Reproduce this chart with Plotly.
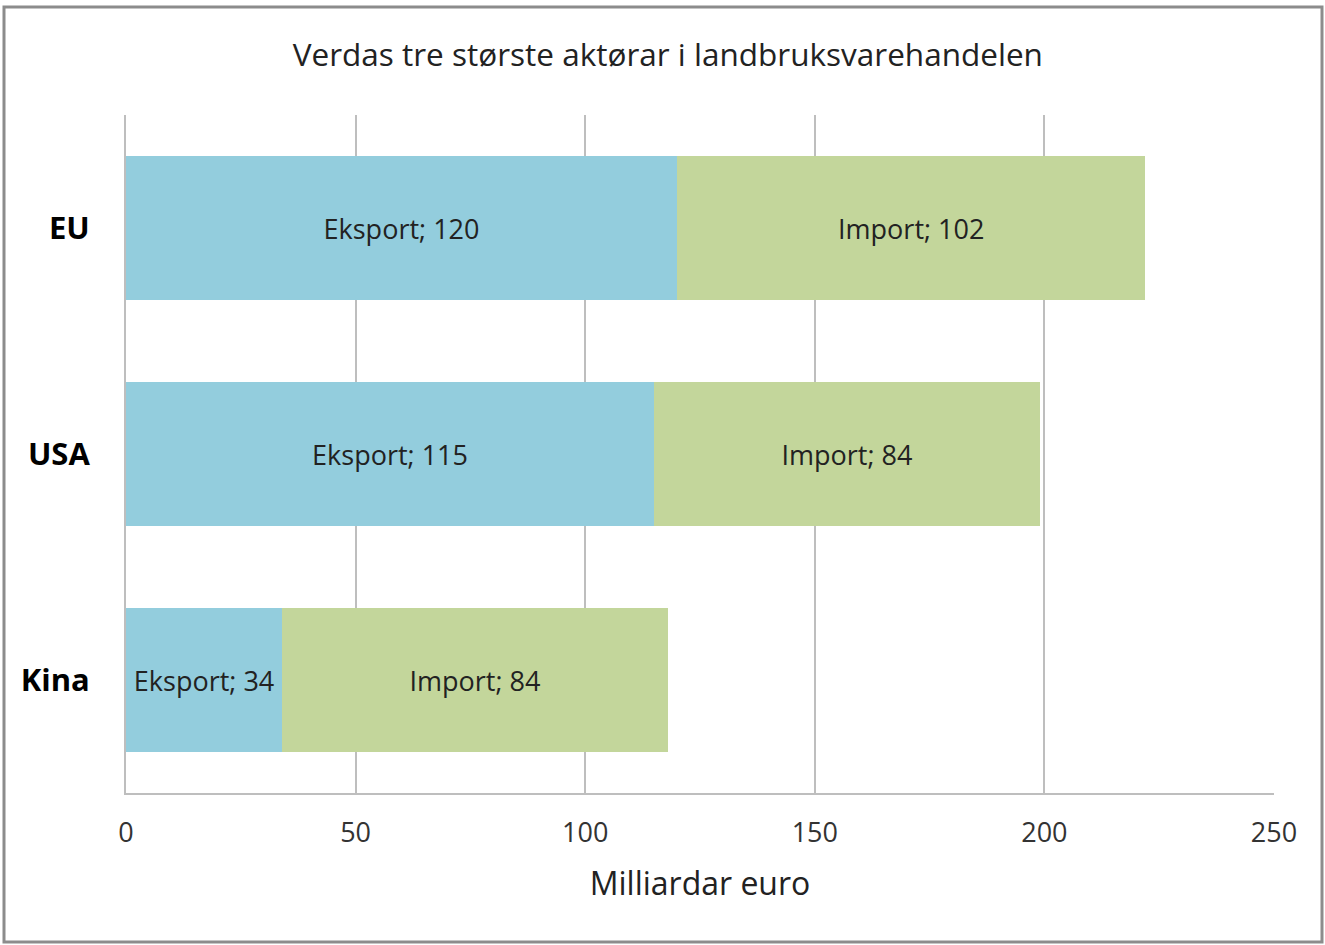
import plotly.graph_objects as go

categories = ["EU", "USA", "Kina"]
eksport = [120, 115, 34]
import_ = [102, 84, 84]
x_ticks = [0, 50, 100, 150, 200, 250]

title = "Verdas tre største aktørar i landbruksvarehandelen"
x_title = "Milliardar euro"

FONT = "'Open Sans', sans-serif"
TXT = "#222222"

fig = go.Figure()
for vals, name, color in [(eksport, "Eksport", "#93CDDD"), (import_, "Import", "#C3D69B")]:
    fig.add_trace(go.Bar(
        y=categories, x=vals, orientation="h", name=name,
        marker=dict(color=color, line=dict(width=0)),
        texttemplate=name + "; %{x}", textposition="inside",
        insidetextanchor="middle", textangle=0, constraintext="none",
        textfont=dict(size=27, color=TXT, family=FONT),
        cliponaxis=False,
    ))

fig.update_layout(
    barmode="stack",
    bargap=0.367,
    width=1325, height=945,
    margin=dict(l=126, r=51, t=115, b=152),
    paper_bgcolor="white", plot_bgcolor="white",
    showlegend=False,
    font=dict(family=FONT, color=TXT),
    title=dict(text=title, x=0.504, xref="container", xanchor="center",
               y=1 - 55 / 945, yref="container", yanchor="middle",
               font=dict(size=31.5, color=TXT, family=FONT)),
    uniformtext=dict(mode=False),
)
fig.update_xaxes(
    range=[0, 250], tickvals=x_ticks, ticktext=[str(v) for v in x_ticks],
    showgrid=True, gridcolor="#BEBEBE", gridwidth=2,
    showline=True, linecolor="#BEBEBE", linewidth=2,
    zeroline=False, ticks="", ticklabelstandoff=15,
    tickfont=dict(size=27, color="#333333", family=FONT),
    title=dict(text=x_title, standoff=23, font=dict(size=32, color=TXT, family=FONT)),
    fixedrange=True,
)
fig.update_yaxes(
    categoryorder="array", categoryarray=categories[::-1],
    showline=True, linecolor="#BEBEBE", linewidth=2,
    showgrid=False, ticks="", ticklabelstandoff=28,
    tickfont=dict(size=31, color="#000000", family=FONT, weight="bold"),
    fixedrange=True,
)
# outer chart border
fig.add_shape(type="rect", xref="paper", yref="paper",
              x0=(4 - 126) / 1148, x1=(1322 - 126) / 1148,
              y0=(793 - 942) / 678, y1=(793 - 7) / 678,
              line=dict(color="#8C8C8C", width=3), fillcolor="rgba(0,0,0,0)", layer="below")

fig.write_html("out.html", config={"displayModeBar": False},
               post_script="document.body.style.margin='0';document.body.style.overflow='hidden';")
